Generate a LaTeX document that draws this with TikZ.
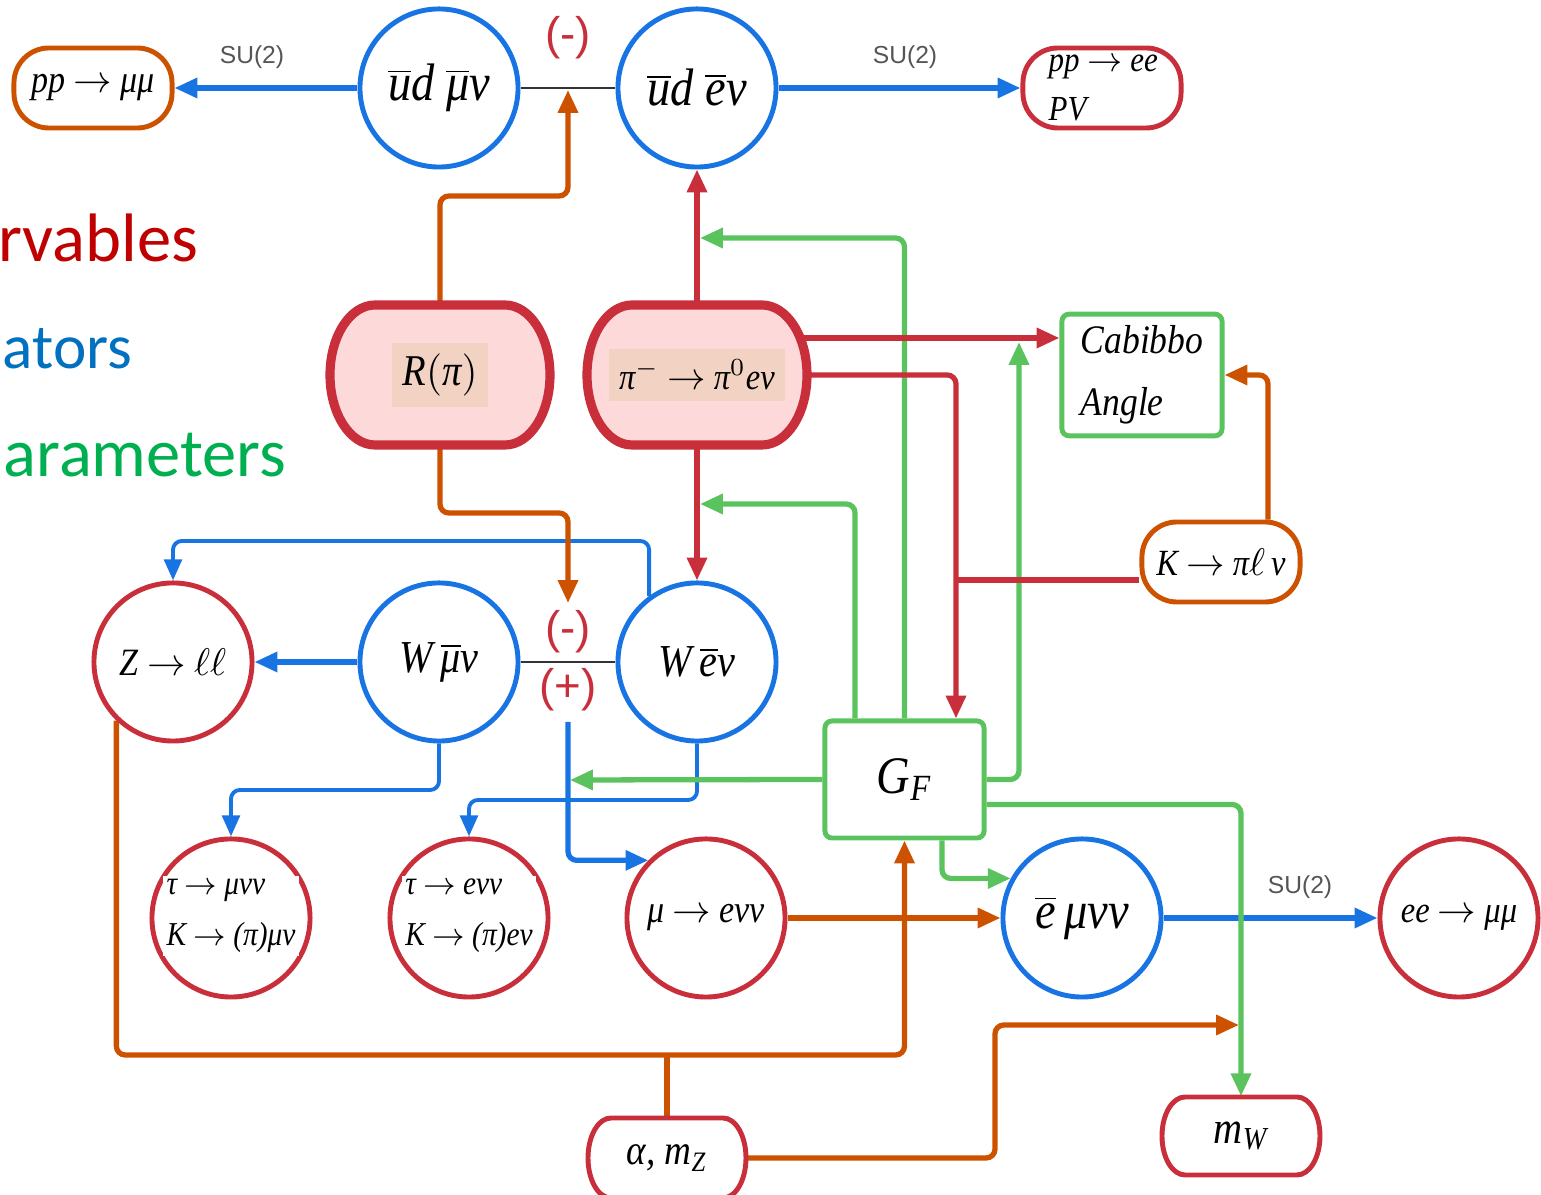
\documentclass[tikz,border=0pt]{standalone}
\usepackage{fontspec}
\setmainfont{Liberation Serif}
\newfontfamily\lab[FakeStretch=0.88, ItalicFont={Liberation Serif Italic}]{Liberation Serif}
\newfontfamily\sufont{Liberation Sans}
\newfontfamily\bigfont{Carlito}
\usetikzlibrary{arrows.meta,calc}
\definecolor{cblue}{HTML}{1874E3}
\definecolor{corange}{HTML}{CC5200}
\definecolor{cred}{HTML}{C92E3B}
\definecolor{cgreen}{HTML}{5BC35E}
\definecolor{cpink}{HTML}{FDD9DA}
\definecolor{ctan}{HTML}{F2D3C3}
\definecolor{tred}{HTML}{C00000}
\definecolor{tblue}{HTML}{0070C0}
\definecolor{tgreen}{HTML}{00B050}
\definecolor{cgray}{HTML}{555555}
\newcommand\ovl[1]{\ensuremath{\overline{\hbox{#1}}}}
\newcommand\fs[1]{\lab\itshape\fontsize{#1}{#1}\selectfont}
\tikzset{
  circ/.style={circle, draw, line width=1.4pt, minimum size=1.58cm, inner sep=0pt, fill=white},
  rbox/.style={rectangle, rounded corners=0.35cm, draw, line width=1.4pt, minimum width=1.58cm, minimum height=0.8cm, fill=white, inner sep=0pt},
  gbox/.style={rectangle, rounded corners=2pt, draw=cgreen, line width=1.4pt, fill=white},
  ghost/.style={rectangle, inner sep=0pt},
  conn/.style={line width=1.5pt, rounded corners=2.5pt, -{Triangle[length=6.5pt,width=5.5pt]}},
  thinconn/.style={line width=1.1pt, rounded corners=2.5pt, -{Triangle[length=6pt,width=5pt]}},
  bconn/.style={conn, draw=cblue},
  bthin/.style={thinconn, draw=cblue},
  oconn/.style={conn, draw=corange},
  oline/.style={line width=1.5pt, draw=corange},
  rconn/.style={conn, draw=cred},
  rline/.style={line width=1.5pt, draw=cred},
  gconn/.style={conn, draw=cgreen},
  blk/.style={line width=0.7pt, draw=black!80},
  su/.style={font=\sufont\fontsize{7}{8}\selectfont, text=cgray},
  pm/.style={font=\sufont\fontsize{13}{14}\selectfont, text=cred},
  bigw/.style={font=\bigfont\fontsize{19.5}{22}\selectfont, anchor=base east, inner sep=0pt},
}
\begin{document}
\begin{tikzpicture}[x=0.01cm, y=-0.01cm]
\useasboundingbox (0,0) rectangle (1541,1195);

% ---------- big legend words ----------
\node[bigw, text=tred] (wobs) at (199,262) {rvables};
\node[bigw, text=tblue, anchor=base west, font=\bigfont\fontsize{18}{20}\selectfont] (wop) at (2,369) {ators};
\node[bigw, text=tgreen] (wpar) at (287,477) {arameters};

% ---------- ghost nodes for barrels ----------
\node[ghost, minimum width=2.2cm, minimum height=1.4cm] (rpi) at (440,375) {};
\node[ghost, minimum width=2.2cm, minimum height=1.4cm] (pid) at (697,375) {};
\node[ghost, minimum width=1.58cm, minimum height=0.8cm] (amz) at (667,1158) {};
\node[ghost, minimum width=1.58cm, minimum height=0.78cm] (mw) at (1241,1136) {};

% ---------- coordinates ----------
\coordinate (mtop) at (568,90);
\coordinate (mmid) at (568,603);
\coordinate (plusb) at (568,722);
\coordinate (g1) at (700,238);
\coordinate (g2) at (700,504);
\coordinate (g3) at (1019,342);
\coordinate (g4) at (570,780);
\coordinate (rj) at (956,580);
\coordinate (mwj) at (1239,1025);

\node[circ, draw=none] (udmu) at (439,88) {};
\node[circ, draw=none] (uden) at (697,88) {};
\node[circ, draw=none] (zll) at (173,662) {};
\node[circ, draw=none] (wmu) at (439,662) {};
\node[circ, draw=none] (wen) at (697,662) {};
\node[circ, draw=none] (taumu) at (231,918) {};
\node[circ, draw=none] (taue) at (469,918) {};
\node[circ, draw=none] (mue) at (706,918) {};
\node[circ, draw=none] (emu) at (1082,918) {};
\node[circ, draw=none] (eemu) at (1459,918) {};
\node[rbox, draw=none] (ppmm) at (93,88) {};
\node[rbox, draw=none] (ppee) at (1102,88) {};
\node[rbox, draw=none] (kpi) at (1221,562) {};
\node[gbox, draw=none, minimum width=1.6cm, minimum height=1.18cm] (cab) at (1142,375) {};
\node[gbox, draw=none, minimum width=1.59cm, minimum height=1.17cm] (gf) at (904.5,779.5) {};

% ---------- connectors ----------
\draw[blk] (udmu.east) -- (uden.west);
\draw[blk] (wmu.east) -- (wen.west);
% blue
\draw[bconn] (udmu.west) -- (ppmm.east);
\draw[bconn] (uden.east) -- (ppee.west);
\draw[bthin] (wen.126.5) |- (zll.north |- 0,541) -- (zll.north);
\draw[bconn] (wmu.west) -- (zll.east);
\draw[bthin] (wmu.south) |- (taumu.north |- 0,790) -- (taumu.north);
\draw[bthin] (wen.south) |- (taue.north |- 0,800) -- (taue.north);
\draw[bconn] (plusb) |- (mue.135);
\draw[bconn] (emu.east) -- (eemu.west);
% orange
\draw[oconn] (rpi.north) |- (mtop |- 0,196) -- (mtop);
\draw[oconn] (rpi.south) |- (mmid |- 0,513) -- (mmid);
\draw[oconn] ($(kpi.north)+(47,0)$) |- (cab.east);
\draw[oconn] (zll.226) |- (gf.south |- 0,1055) -- (gf.south);
\draw[oline] (amz.north) -- (amz.north |- 0,1055);
\draw[oconn] (mue.east) -- (emu.west);
\draw[oconn] (amz.east) -| (995,1025) -- (mwj);
% green
\draw[gconn] (gf.north) |- (g1);
\draw[gconn] ($(gf.north)+(-49.5,0)$) |- (g2);
\draw[gconn] (gf.east) -| (g3);
\draw[gconn] (gf.west) -- (g4);
\draw[gconn] ($(gf.south)+(37.5,0)$) |- (emu.151);
\draw[gconn] ($(gf.east)+(0,25)$) -| (mw.north);
% red
\draw[rconn] (pid.north) -- (uden.south);
\draw[rconn] (pid.south) -- (wen.north);
\draw[rconn] ($(pid.east)+(-7,-37)$) -- ($(cab.west)+(0,-37)$);
\draw[rconn] (pid.east) -| ($(gf.north)+(51.5,0)$);
\draw[rline] ($(kpi.west)+(0,18)$) -- (rj);

% ---------- visible nodes ----------
\node[circ, draw=cblue, font=\fs{15}] at (udmu) {\ovl{u}d \ovl{μ}ν};
\node[circ, draw=cblue, font=\fs{15}] at (uden) {\ovl{u}d \ovl{e}ν};
\node[circ, draw=cred, font=\fs{11}] at (zll) {Z $\to$ $\ell\ell$};
\node[circ, draw=cblue, font=\fs{13}] at (wmu) {W\,\ovl{μ}ν};
\node[circ, draw=cblue, font=\fs{13}] at (wen) {W\,\ovl{e}ν};
\node[circ, draw=cred] at (taumu) {};
\node[fill=white, inner sep=1pt, align=left, font=\fs{9.5}] at (231,916) {τ $\to$ μνν\\[5pt]K $\to$ (π)μν};
\node[circ, draw=cred] at (taue) {};
\node[fill=white, inner sep=1pt, align=left, font=\fs{9.5}] at (469,916) {τ $\to$ eνν\\[5pt]K $\to$ (π)eν};
\node[circ, draw=cred, font=\fs{11}] at (mue) {μ $\to$ eνν};
\node[circ, draw=cblue, font=\fs{15}] at (emu) {\ovl{e}\,μνν};
\node[circ, draw=cred, font=\fs{10.5}] at (eemu) {ee $\to$ μμ};

\node[rbox, draw=corange, font=\fs{11}] at (ppmm) {pp $\to$ μμ};
\node[rbox, draw=cred] at (ppee) {};
\node[align=left, font=\fs{10}, anchor=west, inner sep=0pt] at (1048,88) {pp $\to$ ee\\[4pt]PV};
\node[rbox, draw=corange, font=\fs{10.5}] at (kpi) {K $\to$ π$\ell$\,ν};
\node[gbox, minimum width=1.6cm, minimum height=1.18cm, align=left, font=\fs{11.5}] at (cab) {Cabibbo\\[6pt]Angle};
\node[gbox, minimum width=1.59cm, minimum height=1.17cm, font=\fs{15}] at (gf) {G\textsubscript{F}};

% barrels
\draw[draw=cred, fill=cpink, line width=2.6pt]
  (375,305) -- (505,305) arc[start angle=-90, end angle=90, x radius=45, y radius=70]
  -- (375,445) arc[start angle=90, end angle=270, x radius=45, y radius=70] -- cycle;
\node[fill=ctan, inner sep=3pt, font=\fs{12.5}] at (rpi) {R\ensuremath{\bigl(}π\ensuremath{\bigr)}};
\draw[draw=cred, fill=cpink, line width=2.6pt]
  (632,305) -- (762,305) arc[start angle=-90, end angle=90, x radius=45, y radius=70]
  -- (632,445) arc[start angle=90, end angle=270, x radius=45, y radius=70] -- cycle;
\node[fill=ctan, inner sep=3pt, font=\fs{10.5}] at (pid) {π$^{-}$ $\to$ π$^{0}$eν};
\draw[draw=cred, fill=white, line width=1.4pt]
  (611,1118) -- (723,1118) arc[start angle=-90, end angle=90, x radius=23, y radius=40]
  -- (611,1198) arc[start angle=90, end angle=270, x radius=23, y radius=40] -- cycle;
\node[font=\fs{12}] at (amz) {α, m\textsubscript{Z}};
\draw[draw=cred, fill=white, line width=1.4pt]
  (1185,1097) -- (1297,1097) arc[start angle=-90, end angle=90, x radius=23, y radius=39]
  -- (1185,1175) arc[start angle=90, end angle=270, x radius=23, y radius=39] -- cycle;
\node[font=\fs{13}] at (mw) {m\textsubscript{W}};

% ---------- labels ----------
\node[su] (su1) at (252,57) {SU(2)};
\node[su] (su2) at (905,57) {SU(2)};
\node[su] (su3) at (1300,887) {SU(2)};
\node[pm] (pm1) at (568,38) {(-)};
\node[pm] (pm2) at (568,632) {(-)};
\node[pm] (pm3) at (568,690) {(+)};
\end{tikzpicture}
\end{document}
